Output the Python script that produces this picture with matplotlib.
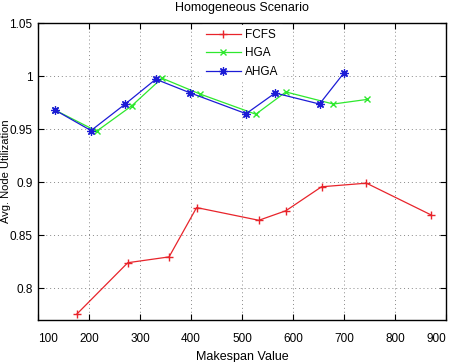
import matplotlib
matplotlib.use("Agg")
import matplotlib.pyplot as plt

# values
fcfs_x = [176, 276, 357, 411, 533, 586, 656, 744, 871]
fcfs_y = [0.7755, 0.824, 0.8295, 0.876, 0.864, 0.873, 0.8956, 0.899, 0.869]

hga_x = [133, 215, 284, 343, 418, 527, 586, 679, 746]
hga_y = [0.968, 0.948, 0.972, 0.998, 0.983, 0.964, 0.985, 0.9736, 0.978]

ahga_x = [133, 204, 271, 331, 399, 508, 565, 652, 700]
ahga_y = [0.968, 0.9486, 0.9736, 0.997, 0.984, 0.9645, 0.984, 0.9736, 1.003]

x_ticks = [100, 200, 300, 400, 500, 600, 700, 800, 900]
y_ticks = [0.8, 0.85, 0.9, 0.95, 1.0, 1.05]
y_tick_labels = ["0.8", "0.85", "0.9", "0.95", "1", "1.05"]

plt.rcParams["font.family"] = ["Liberation Sans", "DejaVu Sans"]

fig = plt.figure(figsize=(4.53, 3.62), dpi=100)
fig.patch.set_facecolor("white")
ax = fig.add_axes([38 / 453, 1 - 320 / 362, 408 / 453, 297 / 362])

asterisk = (8, 2, 0)   # MATLAB-style '*'
ax.plot(fcfs_x, fcfs_y, color="#e8242b", lw=0.9, marker="+", ms=6, mew=1.0, label="FCFS")
ax.plot(hga_x, hga_y, color="#2ee82e", lw=0.9, marker="x", ms=5, mew=1.0, label="HGA")
ax.plot(ahga_x, ahga_y, color="#1c1cd6", lw=0.9, marker=asterisk, ms=6, mew=0.9, label="AHGA")

ax.set_xlim(100, 900)
ax.set_ylim(0.77, 1.05)
ax.set_xticks(x_ticks)
ax.set_yticks(y_ticks)
ax.set_yticklabels(y_tick_labels)
ax.tick_params(direction="in", top=True, right=True, labelsize=8.5, length=4)
ax.tick_params(axis="x", pad=9)
ax.tick_params(axis="y", pad=4)
xl = ax.get_xticklabels()
xl[0].set_ha("left")
xl[-1].set_ha("right")
ax.grid(True, ls=(0, (1, 3)), color="#888888", lw=0.7)
for s in ax.spines.values():
    s.set_linewidth(1.0)

ax.set_title("Homogeneous Scenario", fontsize=9, pad=9)
ax.set_xlabel("Makespan Value", fontsize=9, labelpad=5)
ax.set_ylabel("Avg. Node Utilization", fontsize=8)
ax.yaxis.set_label_coords(-26.5 / 408, 0.5)

leg = ax.legend(loc="upper center", fontsize=8.5, frameon=True, fancybox=False,
                edgecolor="white", framealpha=1.0, borderaxespad=0.2,
                handlelength=3, handletextpad=0.3, labelspacing=0.55, borderpad=0.3)

fig.savefig("out.png", dpi=100)
